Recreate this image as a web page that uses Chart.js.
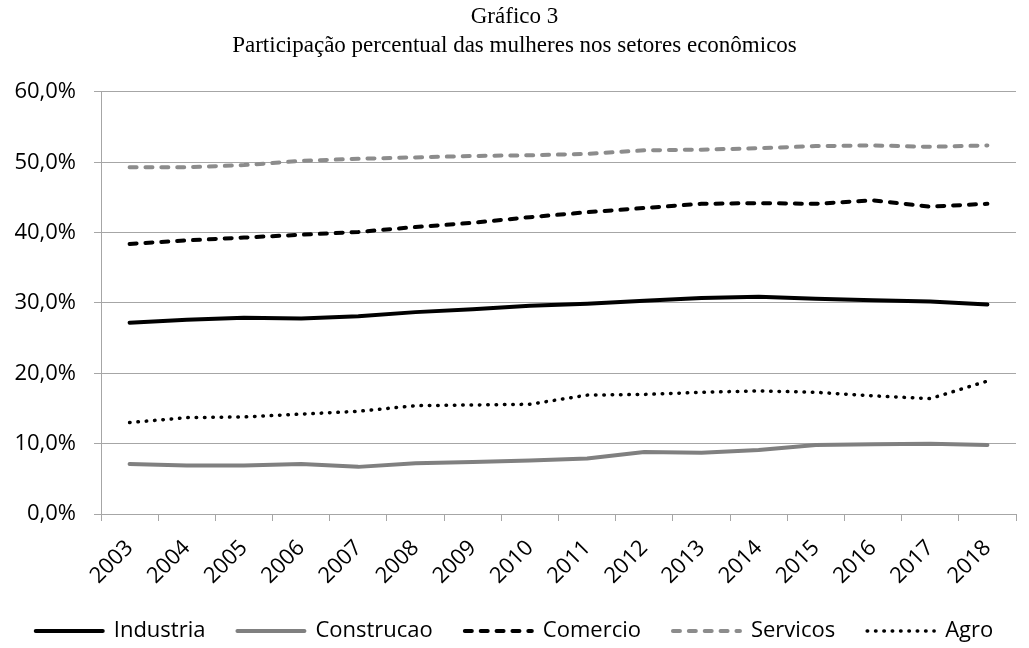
<!DOCTYPE html>
<html>
<head>
<meta charset="utf-8">
<script src="https://cdn.jsdelivr.net/npm/chart.js@4/dist/chart.umd.min.js"></script>
<style>
  html, body { margin: 0; padding: 0; background: #ffffff; }
  #wrap { width: 1029px; height: 648px; position: relative; }
</style>
</head>
<body>
<div id="wrap"><canvas id="c" width="1029" height="648"></canvas></div>
<script>
const categories = ['2003','2004','2005','2006','2007','2008','2009','2010','2011','2012','2013','2014','2015','2016','2017','2018'];
const industria  = [27.2, 27.6, 27.9, 27.8, 28.1, 28.7, 29.1, 29.6, 29.9, 30.3, 30.7, 30.9, 30.6, 30.4, 30.2, 29.8];
const construcao = [7.1, 6.9, 6.9, 7.1, 6.7, 7.2, 7.4, 7.6, 7.9, 8.8, 8.7, 9.1, 9.8, 9.9, 10.0, 9.8];
const comercio   = [38.4, 38.9, 39.3, 39.7, 40.1, 40.8, 41.4, 42.2, 42.9, 43.5, 44.1, 44.2, 44.1, 44.6, 43.7, 44.1];
const servicos   = [49.3, 49.3, 49.6, 50.2, 50.5, 50.7, 50.9, 51.0, 51.2, 51.7, 51.8, 52.0, 52.3, 52.4, 52.2, 52.4];
const agro       = [13.0, 13.7, 13.8, 14.2, 14.6, 15.4, 15.5, 15.6, 16.9, 17.0, 17.3, 17.5, 17.3, 16.8, 16.4, 18.9];
const seriesNames = ['Industria', 'Construcao', 'Comercio', 'Servicos', 'Agro'];
const titleLines = ['Gráfico 3', 'Participação percentual das mulheres nos setores econômicos'];

const SANS = "'Open Sans', 'DejaVu Sans', sans-serif";
const gridGray = '#a6a6a6';

function ds(label, data, color, dash, width) {
  return {
    label: label,
    data: data,
    borderColor: color,
    backgroundColor: color,
    borderWidth: width,
    borderDash: dash,
    borderCapStyle: 'round',
    borderJoinStyle: 'round',
    pointRadius: 0,
    pointHoverRadius: 0,
    tension: 0,
    fill: false
  };
}

new Chart(document.getElementById('c'), {
  type: 'line',
  data: {
    labels: categories,
    datasets: [
      ds(seriesNames[0], industria, '#000000', [], 4),
      ds(seriesNames[1], construcao, '#808080', [], 4),
      ds(seriesNames[2], comercio, '#000000', [7, 8.875], 4),
      ds(seriesNames[3], servicos, '#8c8c8c', [7, 8.875], 4),
      ds(seriesNames[4], agro, '#000000', [0.5, 7.84375], 3.5)
    ]
  },
  options: {
    responsive: false,
    animation: false,
    devicePixelRatio: 1,
    layout: { padding: { left: 0, right: 0, top: 0, bottom: -4 } },
    plugins: {
      title: {
        display: true,
        text: titleLines,
        color: '#000000',
        font: { family: "'Liberation Serif', 'Times New Roman', serif", size: 23, weight: 'normal', lineHeight: 1.26 },
        padding: { top: 2, bottom: 32 }
      },
      legend: {
        display: true,
        position: 'bottom',
        labels: {
          usePointStyle: false,
          boxWidth: 67,
          boxHeight: 0,
          padding: 32,
          color: '#000000',
          font: { family: SANS, size: 22 }
        }
      },
      tooltip: { enabled: false }
    },
    scales: {
      x: {
        offset: true,
        grid: {
          display: true,
          offset: true,
          drawOnChartArea: false,
          drawTicks: true,
          tickLength: 7,
          color: gridGray
        },
        border: { display: true, color: gridGray, width: 1 },
        ticks: {
          color: '#000000',
          font: { family: SANS, size: 22 },
          maxRotation: 45,
          minRotation: 45,
          autoSkip: false,
          padding: 14
        },
        afterFit: function (s) { s.height = 74; }
      },
      y: {
        min: 0,
        max: 60,
        grid: {
          display: true,
          drawOnChartArea: true,
          drawTicks: true,
          tickLength: 7,
          color: gridGray
        },
        border: { display: true, color: gridGray, width: 1 },
        ticks: {
          stepSize: 10,
          color: '#000000',
          font: { family: SANS, size: 22 },
          padding: 18,
          callback: function (v) { return v.toFixed(1).replace('.', ',') + '%'; }
        },
        afterFit: function (s) { s.width = 101; }
      },
      yR: {
        type: 'linear',
        position: 'right',
        display: true,
        grid: { display: false, drawTicks: false },
        border: { display: false },
        ticks: { display: false },
        afterFit: function (s) { s.width = 13; }
      }
    }
  }
});
</script>
</body>
</html>
